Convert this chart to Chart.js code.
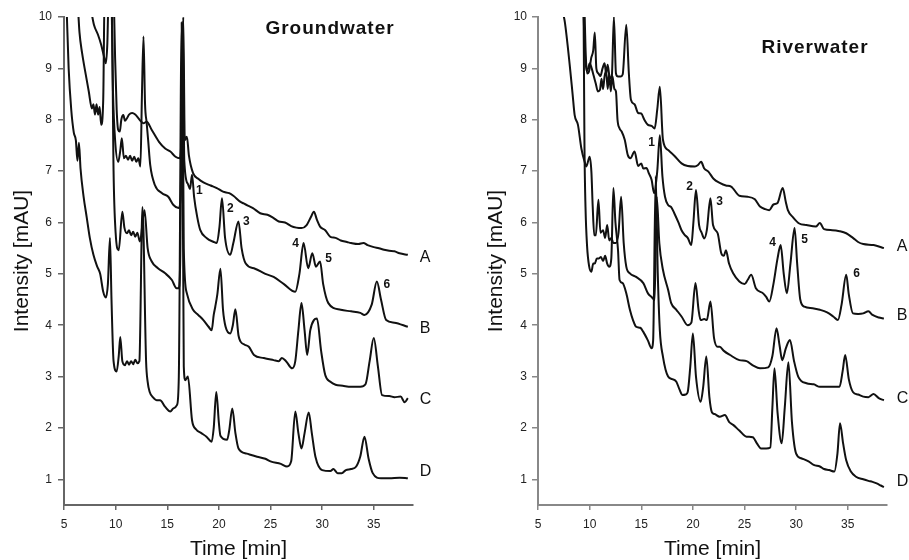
<!DOCTYPE html>
<html>
<head>
<meta charset="utf-8">
<script src="https://cdn.jsdelivr.net/npm/chart.js@4.4.1/dist/chart.umd.min.js"></script>
<style>
  body { margin: 0; background: #fff; }
  .box { position: absolute; top: 0; height: 560px; }
  #left { left: 0; width: 455px; }
  #right { left: 455px; width: 454px; }
</style>
</head>
<body>
<div class="box" id="left"><canvas id="gw" width="455" height="560"></canvas></div>
<div class="box" id="right"><canvas id="rw" width="454" height="560"></canvas></div>
<script>
// ---- Groundwater traces, [time (min), intensity (mAU)] ----
const gwA = [[9.8,10.6],[9.95,9.2],[10.1,8.2],[10.25,7.8],[10.4,7.77],[10.55,8.0],[10.75,8.09],[10.9,7.98],[11.1,8.03],[11.3,8.1],[11.6,8.13],[11.9,8.1],[12.2,8.03],[12.45,7.97],[12.7,7.93],[13.0,7.96],[13.5,7.8],[14.2,7.57],[14.8,7.44],[15.3,7.38],[15.8,7.28],[16.2,7.25],[16.38,7.7],[16.55,10.0],[16.7,7.6],[16.9,7.67],[17.1,7.3],[17.5,6.96],[18.0,6.85],[18.5,6.78],[19.2,6.72],[19.8,6.67],[20.4,6.6],[21.0,6.57],[21.4,6.52],[22.1,6.4],[22.4,6.37],[22.8,6.33],[23.3,6.28],[24.0,6.18],[24.7,6.15],[25.2,6.1],[25.8,6.02],[26.4,6.0],[27.0,5.93],[27.5,5.9],[28.0,5.89],[28.5,5.95],[28.9,6.1],[29.2,6.21],[29.5,6.05],[29.8,5.92],[30.3,5.85],[30.8,5.72],[31.3,5.7],[31.8,5.65],[32.4,5.62],[32.8,5.6],[33.5,5.58],[34.0,5.6],[34.4,5.56],[35.0,5.52],[35.5,5.5],[36.0,5.47],[36.5,5.45],[37.0,5.44],[37.5,5.4],[38.3,5.37]];
const gwB = [[7.65,10.1],[7.9,9.85],[8.3,9.65],[8.6,9.46],[8.85,9.25],[9.05,9.1],[9.2,9.5],[9.35,10.7],[9.55,10.7],[9.75,8.5],[9.95,7.6],[10.25,7.18],[10.45,7.4],[10.6,7.64],[10.8,7.25],[11.0,7.3],[11.2,7.22],[11.4,7.3],[11.6,7.2],[11.8,7.28],[12.0,7.18],[12.2,7.25],[12.4,7.09],[12.55,8.5],[12.7,9.62],[12.85,8.3],[13.0,7.95],[13.15,7.6],[13.35,7.12],[13.8,6.73],[14.5,6.57],[15.1,6.5],[15.6,6.34],[16.1,6.28],[16.3,6.5],[16.5,9.9],[16.65,7.2],[17.0,6.75],[17.2,6.65],[17.4,6.93],[17.6,6.5],[17.9,6.11],[18.2,5.85],[18.8,5.7],[19.5,5.62],[19.8,5.6],[20.05,5.9],[20.3,6.47],[20.6,5.7],[21.1,5.37],[21.4,5.6],[21.9,6.02],[22.2,5.5],[22.6,5.2],[23.5,5.1],[24.5,5.0],[25.3,4.94],[26.3,4.8],[27.4,4.65],[27.8,5.0],[28.2,5.6],[28.65,5.11],[29.05,5.4],[29.4,5.14],[29.8,5.24],[30.1,4.8],[30.6,4.43],[31.8,4.3],[32.8,4.27],[33.7,4.24],[34.1,4.2],[34.8,4.4],[35.3,4.85],[35.7,4.5],[36.2,4.1],[37.0,4.05],[38.3,3.97]];
const gwC = [[6.35,10.2],[6.5,9.7],[6.75,9.3],[7.0,9.0],[7.4,8.55],[7.7,8.22],[7.85,8.3],[8.0,8.1],[8.15,8.3],[8.3,8.1],[8.45,8.25],[8.6,7.9],[8.8,8.4],[8.95,10.7],[9.6,10.7],[9.8,7.0],[10.0,5.8],[10.3,5.46],[10.65,6.21],[10.85,5.9],[11.1,5.79],[11.3,5.85],[11.5,5.75],[11.7,5.82],[11.9,5.72],[12.1,5.8],[12.35,5.63],[12.8,6.24],[13.1,5.5],[13.5,5.24],[14.1,5.11],[14.8,5.01],[15.45,4.88],[15.9,4.72],[16.1,4.72],[16.25,5.2],[16.45,9.8],[16.6,5.5],[16.9,4.62],[17.5,4.3],[18.0,4.2],[18.5,4.1],[19.0,3.97],[19.3,3.9],[19.5,4.2],[19.65,4.36],[19.85,4.6],[20.15,5.1],[20.4,4.3],[20.65,3.97],[21.1,3.84],[21.35,4.0],[21.6,4.31],[21.9,3.8],[22.1,3.68],[22.5,3.62],[22.9,3.58],[23.4,3.42],[24.35,3.36],[25.3,3.32],[25.8,3.3],[26.1,3.36],[26.5,3.3],[27.1,3.16],[27.4,3.3],[27.7,3.9],[28.0,4.43],[28.3,3.9],[28.55,3.42],[28.85,3.9],[29.2,4.1],[29.5,4.13],[29.9,3.5],[30.3,3.03],[30.8,2.9],[31.3,2.84],[32.0,2.82],[32.8,2.8],[33.7,2.8],[34.2,2.85],[34.6,3.3],[35.0,3.75],[35.4,3.2],[35.8,2.64],[36.5,2.62],[37.0,2.6],[37.6,2.61],[38.0,2.5],[38.3,2.58]];
const gwD = [[5.25,10.2],[5.45,9.0],[5.7,8.2],[5.95,7.75],[6.15,7.6],[6.3,7.2],[6.45,7.55],[6.6,7.05],[6.9,6.5],[7.2,6.1],[7.5,5.7],[7.85,5.37],[8.2,5.15],[8.5,5.0],[8.8,4.65],[9.05,4.54],[9.25,4.8],[9.45,5.7],[9.6,4.5],[9.8,3.3],[10.1,3.1],[10.3,3.4],[10.45,3.77],[10.65,3.3],[10.9,3.22],[11.1,3.3],[11.3,3.23],[11.5,3.3],[11.7,3.24],[11.9,3.33],[12.1,3.26],[12.3,3.3],[12.6,6.3],[12.95,3.3],[13.1,2.9],[13.3,2.7],[13.6,2.6],[14.0,2.54],[14.3,2.54],[14.8,2.41],[15.3,2.32],[15.6,2.38],[15.95,2.45],[16.12,3.0],[16.4,9.9],[16.6,3.2],[16.75,2.93],[17.0,3.0],[17.4,2.15],[17.8,1.97],[18.3,1.9],[18.8,1.83],[19.3,1.73],[19.5,2.0],[19.75,2.7],[20.0,2.1],[20.15,1.85],[20.8,1.77],[21.0,1.95],[21.3,2.38],[21.6,1.9],[21.9,1.6],[22.7,1.5],[23.7,1.44],[24.5,1.4],[25.0,1.35],[26.0,1.3],[26.6,1.25],[27.0,1.35],[27.4,2.32],[27.7,1.9],[28.0,1.6],[28.3,1.9],[28.7,2.3],[29.0,1.9],[29.35,1.44],[30.0,1.18],[30.8,1.16],[31.1,1.2],[31.5,1.12],[31.9,1.12],[32.3,1.18],[32.8,1.2],[33.3,1.25],[33.7,1.45],[34.1,1.83],[34.5,1.4],[34.9,1.12],[35.7,1.02],[36.5,1.02],[37.5,1.03],[38.3,1.02]];

// ---- Riverwater traces ----
const rwA = [[9.45,10.6],[9.6,9.4],[9.75,8.9],[9.95,8.95],[10.15,9.2],[10.35,9.35],[10.5,9.7],[10.65,9.0],[10.85,8.9],[11.05,8.85],[11.25,9.0],[11.45,9.1],[11.6,8.9],[11.75,9.07],[11.95,8.81],[12.15,8.85],[12.35,10.0],[12.55,8.9],[12.75,8.84],[13.0,8.84],[13.2,8.88],[13.55,9.85],[13.8,8.9],[14.0,8.39],[14.35,8.3],[14.7,8.13],[15.0,8.12],[15.3,8.0],[15.65,7.9],[16.0,7.88],[16.3,7.83],[16.55,8.2],[16.8,8.64],[17.1,7.61],[17.6,7.41],[18.2,7.3],[18.9,7.15],[19.5,7.1],[20.2,7.09],[20.5,7.12],[20.8,7.18],[21.1,7.05],[21.5,6.99],[22.0,6.85],[22.6,6.77],[23.2,6.72],[23.7,6.7],[24.5,6.52],[25.3,6.5],[26.0,6.45],[26.5,6.31],[27.0,6.26],[27.4,6.24],[27.8,6.35],[28.2,6.38],[28.7,6.67],[29.0,6.4],[29.2,6.24],[29.7,6.1],[30.3,5.98],[31.0,5.95],[31.9,5.92],[32.3,5.99],[32.7,5.87],[33.5,5.85],[34.2,5.83],[34.85,5.79],[35.5,5.7],[36.0,5.62],[36.5,5.58],[37.5,5.56],[38.5,5.5]];
const rwB = [[9.35,10.6],[9.5,9.5],[9.7,8.95],[9.85,9.0],[10.0,9.1],[10.2,9.0],[10.4,8.85],[10.6,8.7],[10.8,8.55],[11.0,8.58],[11.15,8.8],[11.3,8.6],[11.45,8.85],[11.6,8.95],[11.75,8.6],[11.9,8.9],[12.05,8.55],[12.2,8.85],[12.4,8.6],[12.55,8.55],[12.7,8.0],[12.9,7.83],[13.1,7.77],[13.4,7.61],[13.7,7.31],[13.95,7.25],[14.35,7.38],[14.7,7.1],[15.0,7.15],[15.2,7.05],[15.5,7.06],[15.75,6.95],[16.0,6.83],[16.25,6.57],[16.55,7.0],[16.8,7.7],[17.05,6.9],[17.3,6.5],[17.6,6.34],[17.9,6.3],[18.2,6.18],[18.6,6.0],[18.9,5.85],[19.2,5.76],[19.5,5.7],[19.85,5.56],[20.05,6.0],[20.3,6.63],[20.6,5.95],[20.85,5.8],[21.1,5.69],[21.35,5.85],[21.7,6.47],[21.95,5.95],[22.4,5.79],[22.75,5.4],[23.0,5.35],[23.2,5.46],[23.5,5.2],[23.9,5.01],[24.5,4.85],[25.0,4.8],[25.3,4.88],[25.65,4.98],[26.1,4.72],[26.8,4.62],[27.1,4.55],[27.4,4.46],[27.8,4.8],[28.2,5.3],[28.5,5.56],[28.8,5.0],[29.1,4.62],[29.45,5.2],[29.85,5.89],[30.1,5.2],[30.4,4.5],[30.8,4.36],[31.6,4.33],[32.3,4.3],[33.0,4.25],[33.6,4.17],[34.05,4.1],[34.4,4.4],[34.85,4.98],[35.1,4.6],[35.5,4.23],[36.0,4.22],[36.5,4.23],[37.0,4.27],[37.4,4.2],[38.0,4.15],[38.5,4.13]];
const rwC = [[7.4,10.1],[7.6,9.9],[8.07,9.07],[8.35,8.5],[8.55,8.09],[8.87,7.9],[9.2,7.44],[9.52,7.18],[9.68,7.09],[10.0,7.28],[10.17,6.99],[10.3,6.3],[10.45,5.75],[10.6,5.75],[10.85,6.44],[11.05,5.8],[11.3,5.85],[11.5,5.7],[11.7,5.95],[11.9,5.65],[12.1,5.7],[12.3,5.6],[12.55,5.6],[12.8,5.8],[13.05,6.5],[13.3,5.6],[13.55,5.14],[13.9,5.01],[14.5,4.94],[15.2,4.82],[15.65,4.62],[16.0,4.55],[16.3,4.49],[16.5,6.5],[16.75,5.6],[17.1,5.08],[17.6,4.69],[17.9,4.43],[18.4,4.3],[18.9,4.17],[19.5,4.0],[19.85,4.05],[20.25,4.82],[20.55,4.3],[20.75,4.1],[21.1,4.12],[21.35,4.1],[21.7,4.46],[22.05,3.75],[22.4,3.58],[22.6,3.58],[23.0,3.5],[23.6,3.42],[24.5,3.32],[25.2,3.3],[25.8,3.22],[26.5,3.16],[27.3,3.18],[27.7,3.4],[28.1,3.94],[28.4,3.6],[28.65,3.32],[29.0,3.55],[29.4,3.71],[29.8,3.3],[30.2,3.0],[31.0,2.87],[31.7,2.85],[32.3,2.8],[33.0,2.8],[33.6,2.8],[34.2,2.8],[34.5,3.1],[34.75,3.42],[35.1,2.95],[35.5,2.7],[36.0,2.65],[36.5,2.61],[37.0,2.6],[37.5,2.66],[38.0,2.58],[38.5,2.54]];
const rwD = [[9.4,10.6],[9.5,7.5],[9.6,6.3],[9.75,5.55],[9.95,5.15],[10.17,5.04],[10.35,5.2],[10.5,5.2],[10.7,5.3],[10.9,5.3],[11.1,5.33],[11.3,5.25],[11.5,5.35],[11.7,5.2],[11.9,5.14],[12.1,5.3],[12.3,6.67],[12.5,6.0],[12.75,5.46],[12.9,4.88],[13.2,4.82],[13.55,4.62],[13.9,4.3],[14.2,4.1],[14.5,3.97],[14.9,3.95],[15.2,3.87],[15.65,3.7],[16.0,3.55],[16.15,3.7],[16.4,6.9],[16.6,5.0],[16.8,3.9],[17.1,3.39],[17.6,3.0],[18.0,2.95],[18.4,2.9],[18.7,2.75],[19.0,2.64],[19.3,2.65],[19.5,2.7],[19.75,3.2],[20.0,3.84],[20.3,3.0],[20.75,2.51],[21.0,2.8],[21.3,3.39],[21.6,2.6],[21.85,2.3],[22.1,2.27],[22.6,2.22],[23.1,2.25],[23.5,2.12],[23.9,2.06],[24.5,1.95],[25.2,1.83],[25.8,1.82],[26.2,1.7],[26.6,1.6],[27.1,1.6],[27.5,1.62],[27.7,2.4],[27.9,3.16],[28.2,2.3],[28.6,1.7],[28.9,2.4],[29.25,3.28],[29.6,2.1],[30.0,1.5],[30.5,1.41],[31.2,1.35],[31.7,1.28],[32.3,1.25],[32.7,1.2],[33.2,1.18],[33.7,1.15],[34.0,1.5],[34.25,2.09],[34.55,1.7],[34.85,1.37],[35.3,1.15],[35.8,1.05],[36.5,1.0],[37.0,0.97],[37.4,0.95],[37.8,0.92],[38.2,0.88],[38.5,0.85]];

// axis tick values
const xTicks = [5, 10, 15, 20, 25, 30, 35];
const yTicks = [1, 2, 3, 4, 5, 6, 7, 8, 9, 10];

// trace letters and peak numbers (placed in data units)
const traceNames = ['A', 'B', 'C', 'D'];
const gwTraceY = [5.31, 3.93, 2.56, 1.16];
const rwTraceY = [5.53, 4.18, 2.58, 0.95];
const peakNums = ['1', '2', '3', '4', '5', '6'];
const gwPeakT = [18.1, 21.1, 22.67, 27.43, 30.63, 36.26];
const gwPeakV = [6.61, 6.26, 6.01, 5.58, 5.29, 4.79];
const rwPeakT = [16.0, 19.69, 22.59, 27.72, 30.82, 35.86];
const rwPeakV = [7.55, 6.69, 6.4, 5.6, 5.66, 5.0];

const FONT = '"Liberation Sans", Arial, Helvetica, sans-serif';

function makeChart(id, traces, cfg) {
    var ctx = document.getElementById(id).getContext('2d');

    // letters, numbers and panel title
    const labelsPlugin = {
        id: 'labels_' + id,
        afterDraw(chart) {
            const c = chart.ctx;
            const xs = chart.scales.x, ys = chart.scales.y;
            c.save();
            c.fillStyle = '#111';
            c.textBaseline = 'middle';
            c.textAlign = 'center';
            c.font = 'bold 12px ' + FONT;
            peakNums.forEach(function(n, i) {
                c.fillText(n, xs.getPixelForValue(cfg.peakT[i]), ys.getPixelForValue(cfg.peakV[i]));
            });
            c.textAlign = 'left';
            c.font = '16px ' + FONT;
            traceNames.forEach(function(n, i) {
                c.fillText(n, xs.getPixelForValue(cfg.letterT), ys.getPixelForValue(cfg.traceY[i]));
            });
            c.textAlign = 'center';
            c.font = 'bold 19px ' + FONT;
            if ('letterSpacing' in c) c.letterSpacing = '1px';
            const ca = chart.chartArea;
            c.fillText(cfg.title, ca.right - cfg.titleDx, ca.top + cfg.titleDy);
            c.restore();
        }
    };

    return new Chart(ctx, {
        type: 'line',
        data: {
            datasets: traces.map(function(t) {
                return {
                    data: t,
                    borderColor: '#111',
                    borderWidth: 2,
                    pointRadius: 0,
                    fill: false,
                    cubicInterpolationMode: 'monotone'
                };
            })
        },
        options: {
            responsive: false,
            animation: false,
            devicePixelRatio: 1,
            events: [],
            layout: { padding: { top: 17, right: cfg.padRight, left: 0, bottom: 0 } },
            plugins: { legend: { display: false }, tooltip: { enabled: false } },
            scales: {
                x: {
                    type: 'linear',
                    min: 5,
                    max: 38.8,
                    afterBuildTicks: function(s) { s.ticks = xTicks.map(function(v) { return { value: v }; }); },
                    afterFit: function(s) { s.height = 55; },
                    ticks: { autoSkip: false, maxRotation: 0, color: '#222', padding: 7, font: { family: FONT, size: 12 } },
                    grid: { drawOnChartArea: false, tickLength: 5, color: cfg.axisColor, lineWidth: 1.5 },
                    border: { color: cfg.axisColor, width: 2 },
                    title: { display: true, text: 'Time [min]', color: '#111', font: { family: FONT, size: 21, lineHeight: 1 }, padding: { top: 0, bottom: 0 } }
                },
                y: {
                    min: 0.5,
                    max: 10,
                    afterBuildTicks: function(s) { s.ticks = yTicks.map(function(v) { return { value: v }; }); },
                    afterFit: function(s) { s.width = cfg.yWidth; },
                    ticks: { autoSkip: false, color: '#222', padding: cfg.tickPad, font: { family: FONT, size: 12 } },
                    grid: { drawOnChartArea: false, tickLength: 6, color: cfg.axisColor, lineWidth: 1.5 },
                    border: { color: cfg.axisColor, width: 2 },
                    title: { display: true, text: 'Intensity [mAU]', color: '#111', font: { family: FONT, size: 21, lineHeight: 1.2 }, padding: { top: cfg.yTitlePad, bottom: 0 } }
                }
            }
        },
        plugins: [labelsPlugin]
    });
}

makeChart('gw', [gwA, gwB, gwC, gwD], {
    padRight: 42, yWidth: 64, tickPad: 6, yTitlePad: 10, axisColor: '#666',
    peakT: gwPeakT, peakV: gwPeakV, traceY: gwTraceY, letterT: 39.45,
    title: 'Groundwater', titleDx: 83, titleDy: 12
});
makeChart('rw', [rwA, rwB, rwC, rwD], {
    padRight: 22, yWidth: 83, tickPad: 5, yTitlePad: 29, axisColor: '#888',
    peakT: rwPeakT, peakV: rwPeakV, traceY: rwTraceY, letterT: 39.75,
    title: 'Riverwater', titleDx: 72, titleDy: 31
});
</script>
</body>
</html>
